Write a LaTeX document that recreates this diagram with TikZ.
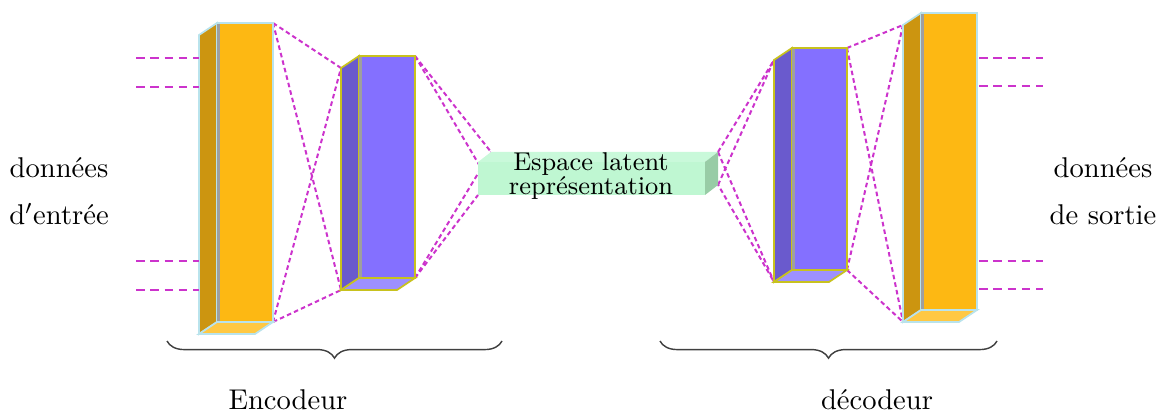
\documentclass[tikz,border=0pt]{standalone}
\usepackage{fontspec}
\usetikzlibrary{calc,decorations.pathreplacing}

\definecolor{orangeface}{HTML}{FDB813}
\definecolor{orangecote}{HTML}{CC9510}
\definecolor{orangebas}{HTML}{FFC843}
\definecolor{orangebord}{HTML}{B9E3EC}
\definecolor{violetface}{HTML}{8470FF}
\definecolor{violetcote}{HTML}{6A5ACD}
\definecolor{violetbas}{HTML}{9D90FF}
\definecolor{violetbord}{HTML}{C8C21E}
\definecolor{vertface}{HTML}{BFF7D2}
\definecolor{verthaut}{HTML}{C9F9DA}
\definecolor{vertcote}{HTML}{98CCA6}
\definecolor{lienrose}{HTML}{CC33CC}

\tikzset{
	lien/.style={lienrose, line width=0.7pt, dash pattern=on 1.6pt off 1.1pt},
	entreelien/.style={lienrose, line width=0.6pt, dash pattern=on 3pt off 2pt},
	accolade/.style={decorate, decoration={brace, mirror, amplitude=6pt}, line width=0.5pt, black!75},
	bord/.style={line width=0.6pt}
}

% couche 3D : nom, x gauche, y haut, x droite, y bas, couleur
\newcommand{\couche}[6]{%
	\coordinate (#1-nw) at (#2,#3);
	\coordinate (#1-ne) at (#4,#3);
	\coordinate (#1-se) at (#4,#5);
	\coordinate (#1-sw) at (#2,#5);
	\coordinate (#1-bnw) at ($(#1-nw)+(-18,12)$);
	\coordinate (#1-bsw) at ($(#1-sw)+(-18,12)$);
	\coordinate (#1-bse) at ($(#1-se)+(-18,12)$);
	\filldraw[fill=#6cote, draw=#6bord, bord] (#1-nw) -- (#1-bnw) -- (#1-bsw) -- (#1-sw) -- cycle;
	\filldraw[fill=#6bas, draw=#6bord, bord] (#1-sw) -- (#1-se) -- (#1-bse) -- (#1-bsw) -- cycle;
	\filldraw[fill=#6face, draw=#6bord, bord] (#1-nw) rectangle (#1-se);
	\draw[gray!75, line width=1.2pt] ($(#1-nw)+(1.5,0.8)$) -- ($(#1-sw)+(1.5,-0.8)$);
}

\begin{document}
\begin{tikzpicture}[x=0.0123cm, y=-0.0123cm]
	\useasboundingbox (0,0) rectangle (1168,415);

	% espace latent
	\coordinate (lat-nw) at (478,162);
	\coordinate (lat-ne) at (705,162);
	\coordinate (lat-se) at (705,195);
	\coordinate (lat-sw) at (478,195);
	\coordinate (lat-bnw) at (491,152);
	\coordinate (lat-bne) at (718,152);
	\coordinate (lat-bse) at (718,185);
	\coordinate (lat-bsw) at (491,185);

	% coins des couches
	\coordinate (entree-ne) at (273,23);
	\coordinate (entree-se) at (273,322);
	\coordinate (enc-bnw) at (341,68);
	\coordinate (enc-bsw) at (341,290);
	\coordinate (enc-ne) at (415,56);
	\coordinate (enc-se) at (415,278);
	\coordinate (dec-bnw) at (774,60);
	\coordinate (dec-bsw) at (774,282);
	\coordinate (dec-ne) at (847,48);
	\coordinate (dec-se) at (847,270);
	\coordinate (sortie-bnw) at (903,25);
	\coordinate (sortie-bsw) at (903,322);

	% liaisons
	\draw[lien] (entree-ne) -- (enc-bnw);
	\draw[lien] (entree-ne) -- (enc-bsw);
	\draw[lien] (entree-se) -- (enc-bnw);
	\draw[lien] (entree-se) -- (enc-bsw);
	\draw[lien] (enc-ne) -- (lat-bnw);
	\draw[lien] (enc-ne) -- (lat-bsw);
	\draw[lien] (enc-se) -- (lat-bnw);
	\draw[lien] (enc-se) -- (lat-sw);
	\draw[lien] (lat-bne) -- (dec-bnw);
	\draw[lien] (lat-bse) -- (dec-bnw);
	\draw[lien] (lat-bne) -- (dec-bsw);
	\draw[lien] (lat-ne) -- (dec-bsw);
	\draw[lien] (dec-ne) -- (sortie-bnw);
	\draw[lien] (dec-ne) -- (sortie-bsw);
	\draw[lien] (dec-se) -- (sortie-bnw);
	\draw[lien] (dec-se) -- (sortie-bsw);

	% couches
	\couche{entree}{217}{23}{273}{322}{orange}
	\couche{enc}{359}{56}{415}{278}{violet}
	\couche{dec}{792}{48}{847}{270}{violet}
	\couche{sortie}{921}{13}{977}{310}{orange}

	\fill[verthaut] (lat-nw) -- (lat-bnw) -- (lat-bne) -- (lat-ne) -- cycle;
	\fill[vertcote] (lat-ne) -- (lat-bne) -- (lat-bse) -- (lat-se) -- cycle;
	\fill[vertface] (lat-nw) rectangle (lat-se);
	\node[font=\small, align=center, inner sep=0pt] (lat-txt) at (591,176) {Espace latent\\[-2.6pt]représentation};

	% entrees et sorties
	\foreach \y [count=\i] in {58,87,261,290} {
		\coordinate (e\i) at (136,\y);
		\draw[entreelien] (e\i) -- (e\i -| entree-bnw);
	}
	\foreach \y [count=\i] in {58,86,261,289} {
		\coordinate (s\i) at (1043,\y);
		\draw[entreelien] ($(s\i -| sortie-ne)+(2,0)$) -- (s\i);
	}

	% accolades
	\coordinate (acc-g1) at (167,341);
	\coordinate (acc-g2) at (502,341);
	\coordinate (acc-d1) at (660,341);
	\coordinate (acc-d2) at (997,341);
	\draw[accolade] (acc-g1) -- (acc-g2);
	\draw[accolade] (acc-d1) -- (acc-d2);

	% textes
	\node (don-e) at (59,168) {données};
	\node (ent) at (59,214) {d$'$entrée};
	\node (don-s) at (1103,168) {données};
	\node (sor) at (1103,215) {de sortie};
	\node (lbl-enc) at (288,400) {Encodeur};
	\node (lbl-dec) at (877,400) {décodeur};
\end{tikzpicture}
\end{document}
